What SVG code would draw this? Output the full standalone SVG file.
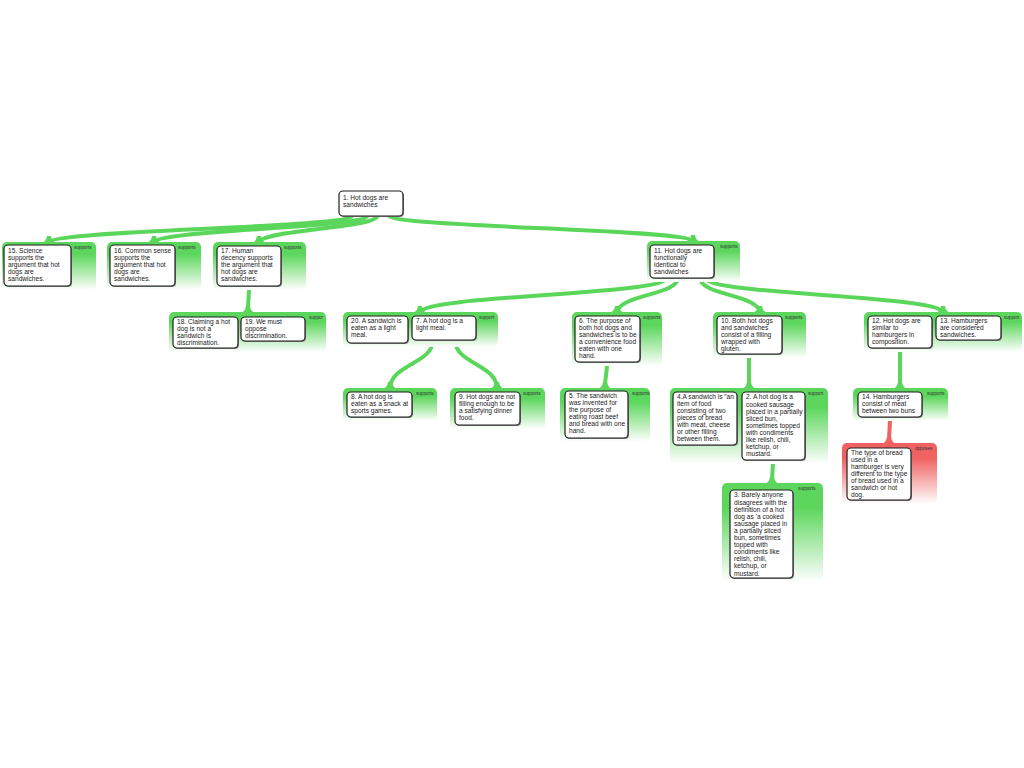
<svg xmlns="http://www.w3.org/2000/svg" width="1024" height="768" viewBox="0 0 1024 768">
<defs>
<linearGradient id="gg" x1="0" y1="0" x2="0" y2="1">
<stop offset="0" stop-color="#5cd65c"/>
<stop offset="0.25" stop-color="#5cd65c"/>
<stop offset="1" stop-color="#ffffff"/>
</linearGradient>
<linearGradient id="gr" x1="0" y1="0" x2="0" y2="1">
<stop offset="0" stop-color="#f06262"/>
<stop offset="0.25" stop-color="#f06262"/>
<stop offset="1" stop-color="#ffffff"/>
</linearGradient>
<style>
.pg{fill:url(#gg);}
.pr{fill:url(#gr);}
.box{fill:#ffffff;stroke:#1e1e1e;stroke-width:1.2;}
.sh{fill:#8a8a8a;}
.t{font-family:"Liberation Sans",Arial,sans-serif;font-size:6.6px;fill:#1a1a1a;}
.lbl{font-family:"Liberation Sans",Arial,sans-serif;font-size:4.6px;fill:#333333;}
.lk{fill:none;stroke:#5ad65a;stroke-width:4;}
.lkr{fill:none;stroke:#ee6262;stroke-width:4;}
.fl{fill:#5ad65a;}
.flr{fill:#ee6262;}
</style>
</defs>
<rect width="1024" height="768" fill="#ffffff"/>

<g id="connectors">
<path class="lk" d="M353,215 C353,229 49,229 49,243"/>
<path class="lk" d="M368,215 C368,229 154,229 154,243"/>
<path class="lk" d="M378,215 C378,229 259,229 259,243"/>
<path class="lk" d="M388,215 C388,228 693,228 693,242"/>
<path class="lk" d="M249,286 C249,299 248,299 248,313"/>
<path class="lk" d="M666,278 C666,295 420,295 420,313"/>
<path class="lk" d="M678,278 C678,295 617,295 617,313"/>
<path class="lk" d="M700,278 C700,295 760,295 760,313"/>
<path class="lk" d="M706,278 C706,295 943,295 943,313"/>
<path class="lk" d="M433,340 C433,364 390,364 390,389"/>
<path class="lk" d="M455,340 C455,364 497,364 497,389"/>
<path class="lk" d="M607,362 C607,375 605,375 605,389"/>
<path class="lk" d="M749,354 C749,371 749,371 749,389"/>
<path class="lk" d="M773,460 C773,471 772,471 772,484"/>
<path class="lk" d="M900,348 C900,368 900,368 900,389"/>
<path class="lkr" d="M890,417 C890,430 889,430 889,444"/>
<path class="fl" d="M40,243 Q46,243 47,236 L51,236 Q52,243 58,243 Z"/>
<path class="fl" d="M145,243 Q151,243 152,236 L156,236 Q157,243 163,243 Z"/>
<path class="fl" d="M250,243 Q256,243 257,236 L261,236 Q262,243 268,243 Z"/>
<path class="fl" d="M684,242 Q690,242 691,235 L695,235 Q696,242 702,242 Z"/>
<path class="fl" d="M239,313 Q245,313 246,306 L250,306 Q251,313 257,313 Z"/>
<path class="fl" d="M411,313 Q417,313 418,306 L422,306 Q423,313 429,313 Z"/>
<path class="fl" d="M608,313 Q614,313 615,306 L619,306 Q620,313 626,313 Z"/>
<path class="fl" d="M751,313 Q757,313 758,306 L762,306 Q763,313 769,313 Z"/>
<path class="fl" d="M934,313 Q940,313 941,306 L945,306 Q946,313 952,313 Z"/>
<path class="fl" d="M381,389 Q387,389 388,382 L392,382 Q393,389 399,389 Z"/>
<path class="fl" d="M488,389 Q494,389 495,382 L499,382 Q500,389 506,389 Z"/>
<path class="fl" d="M596,389 Q602,389 603,382 L607,382 Q608,389 614,389 Z"/>
<path class="fl" d="M740,389 Q746,389 747,382 L751,382 Q752,389 758,389 Z"/>
<path class="fl" d="M763,484 Q769,484 770,477 L774,477 Q775,484 781,484 Z"/>
<path class="fl" d="M891,389 Q897,389 898,382 L902,382 Q903,389 909,389 Z"/>
<path class="flr" d="M880,444 Q886,444 887,437 L891,437 Q892,444 898,444 Z"/>
<path class="fl" d="M244,286 Q247,286 247,291 L251,291 Q251,286 254,286 Z"/>
<path class="fl" d="M602,362 Q605,362 605,367 L609,367 Q609,362 612,362 Z"/>
<path class="fl" d="M744,354 Q747,354 747,359 L751,359 Q751,354 754,354 Z"/>
<path class="fl" d="M768,460 Q771,460 771,465 L775,465 Q775,460 778,460 Z"/>
<path class="fl" d="M895,348 Q898,348 898,353 L902,353 Q902,348 905,348 Z"/>
<path class="flr" d="M885,417 Q888,417 888,422 L892,422 Q892,417 895,417 Z"/>
</g>

<g id="node-1">
<rect class="sh" x="340" y="192" width="64" height="25" rx="4"/>
<rect class="box" x="339" y="191" width="64" height="25" rx="4"/>
<text class="t" y="200.3"><tspan x="343">1. Hot dogs are</tspan><tspan x="343" dy="7">sandwiches</tspan></text>
</g>

<g id="group-15">
<rect class="pg" x="2" y="242" width="94" height="48" rx="5"/>
<text class="lbl" x="74" y="248.6">supports</text>
<g id="node-15">
<rect class="sh" x="5" y="246" width="67" height="41" rx="4"/>
<rect class="box" x="4" y="245" width="67" height="41" rx="4"/>
<text class="t" y="252.6"><tspan x="8">15. Science</tspan><tspan x="8" dy="7.1">supports the</tspan><tspan x="8" dy="7.1">argument that hot</tspan><tspan x="8" dy="7.1">dogs are</tspan><tspan x="8" dy="7.1">sandwiches.</tspan></text>
</g>
</g>

<g id="group-16">
<rect class="pg" x="107" y="242" width="94" height="48" rx="5"/>
<text class="lbl" x="178" y="248.6">supports</text>
<g id="node-16">
<rect class="sh" x="111" y="246" width="65" height="41" rx="4"/>
<rect class="box" x="110" y="245" width="65" height="41" rx="4"/>
<text class="t" y="252.6"><tspan x="114">16. Common sense</tspan><tspan x="114" dy="7.1">supports the</tspan><tspan x="114" dy="7.1">argument that hot</tspan><tspan x="114" dy="7.1">dogs are</tspan><tspan x="114" dy="7.1">sandwiches.</tspan></text>
</g>
</g>

<g id="group-17">
<rect class="pg" x="213" y="242" width="93" height="48" rx="5"/>
<text class="lbl" x="284" y="248.6">supports</text>
<g id="node-17">
<rect class="sh" x="218" y="247" width="64" height="40" rx="4"/>
<rect class="box" x="217" y="246" width="64" height="40" rx="4"/>
<text class="t" y="253.4"><tspan x="221">17. Human</tspan><tspan x="221" dy="7">decency supports</tspan><tspan x="221" dy="7">the argument that</tspan><tspan x="221" dy="7">hot dogs are</tspan><tspan x="221" dy="7">sandwiches.</tspan></text>
</g>
</g>

<g id="group-18-19">
<rect class="pg" x="169" y="312" width="157" height="40" rx="5"/>
<text class="lbl" x="309" y="318.6">suppor</text>
<g id="node-18">
<rect class="sh" x="174" y="318" width="65" height="31" rx="4"/>
<rect class="box" x="173" y="317" width="65" height="31" rx="4"/>
<text class="t" y="324.2"><tspan x="177">18. Claiming a hot</tspan><tspan x="177" dy="6.9">dog is not a</tspan><tspan x="177" dy="6.9">sandwich is</tspan><tspan x="177" dy="6.9">discrimination.</tspan></text>
</g>
<g id="node-19">
<rect class="sh" x="242" y="318" width="64" height="24" rx="4"/>
<rect class="box" x="241" y="317" width="64" height="24" rx="4"/>
<text class="t" y="324.2"><tspan x="245">19. We must</tspan><tspan x="245" dy="6.9">oppose</tspan><tspan x="245" dy="6.9">discrimination.</tspan></text>
</g>
</g>

<g id="group-11">
<rect class="pg" x="647" y="241" width="93" height="41" rx="5"/>
<text class="lbl" x="720" y="247.6">supports</text>
<g id="node-11">
<rect class="sh" x="651" y="246" width="64" height="33" rx="4"/>
<rect class="box" x="650" y="245" width="64" height="33" rx="4"/>
<text class="t" y="252.6"><tspan x="654">11. Hot dogs are</tspan><tspan x="654" dy="7.1">functionally</tspan><tspan x="654" dy="7.1">identical to</tspan><tspan x="654" dy="7.1">sandwiches</tspan></text>
</g>
</g>

<g id="group-20-7">
<rect class="pg" x="343" y="312" width="155" height="35" rx="5"/>
<text class="lbl" x="479" y="318.6">support</text>
<g id="node-20">
<rect class="sh" x="348" y="317" width="61" height="27" rx="4"/>
<rect class="box" x="347" y="316" width="61" height="27" rx="4"/>
<text class="t" y="323.4"><tspan x="351">20. A sandwich is</tspan><tspan x="351" dy="7">eaten as a light</tspan><tspan x="351" dy="7">meal.</tspan></text>
</g>
<g id="node-7">
<rect class="sh" x="413" y="317" width="64" height="24" rx="4"/>
<rect class="box" x="412" y="316" width="64" height="24" rx="4"/>
<text class="t" y="323.4"><tspan x="416">7. A hot dog is a</tspan><tspan x="416" dy="7">light meal.</tspan></text>
</g>
</g>

<g id="group-8">
<rect class="pg" x="343" y="388" width="94" height="33" rx="5"/>
<text class="lbl" x="416" y="394.6">supports</text>
<g id="node-8">
<rect class="sh" x="348" y="393" width="65" height="25" rx="4"/>
<rect class="box" x="347" y="392" width="65" height="25" rx="4"/>
<text class="t" y="399.3"><tspan x="351">8. A hot dog is</tspan><tspan x="351" dy="6.9">eaten as a snack at</tspan><tspan x="351" dy="6.9">sports games.</tspan></text>
</g>
</g>

<g id="group-9">
<rect class="pg" x="450" y="388" width="95" height="41" rx="5"/>
<text class="lbl" x="523" y="394.6">supports</text>
<g id="node-9">
<rect class="sh" x="456" y="393" width="65" height="33" rx="4"/>
<rect class="box" x="455" y="392" width="65" height="33" rx="4"/>
<text class="t" y="399.4"><tspan x="459">9. Hot dogs are not</tspan><tspan x="459" dy="7">filling enough to be</tspan><tspan x="459" dy="7">a satisfying dinner</tspan><tspan x="459" dy="7">food.</tspan></text>
</g>
</g>

<g id="group-6">
<rect class="pg" x="572" y="312" width="90" height="54" rx="5"/>
<text class="lbl" x="643" y="318.6">supports</text>
<g id="node-6">
<rect class="sh" x="576" y="317" width="65" height="46" rx="4"/>
<rect class="box" x="575" y="316" width="65" height="46" rx="4"/>
<text class="t" y="323.4"><tspan x="579">6. The purpose of</tspan><tspan x="579" dy="7">both hot dogs and</tspan><tspan x="579" dy="7">sandwiches is to be</tspan><tspan x="579" dy="7">a convenience food</tspan><tspan x="579" dy="7">eaten with one</tspan><tspan x="579" dy="7">hand.</tspan></text>
</g>
</g>

<g id="group-5">
<rect class="pg" x="560" y="388" width="90" height="54" rx="5"/>
<text class="lbl" x="632" y="394.6">supports</text>
<g id="node-5">
<rect class="sh" x="566" y="392" width="63" height="47" rx="4"/>
<rect class="box" x="565" y="391" width="63" height="47" rx="4"/>
<text class="t" y="398.4"><tspan x="569">5. The sandwich</tspan><tspan x="569" dy="7">was invented for</tspan><tspan x="569" dy="7">the purpose of</tspan><tspan x="569" dy="7">eating roast beef</tspan><tspan x="569" dy="7">and bread with one</tspan><tspan x="569" dy="7">hand.</tspan></text>
</g>
</g>

<g id="group-10">
<rect class="pg" x="713" y="312" width="93" height="46" rx="5"/>
<text class="lbl" x="785" y="318.6">supports</text>
<g id="node-10">
<rect class="sh" x="718" y="317" width="65" height="38" rx="4"/>
<rect class="box" x="717" y="316" width="65" height="38" rx="4"/>
<text class="t" y="323.4"><tspan x="721">10. Both hot dogs</tspan><tspan x="721" dy="7">and sandwiches</tspan><tspan x="721" dy="7">consist of a filling</tspan><tspan x="721" dy="7">wrapped with</tspan><tspan x="721" dy="7">gluten.</tspan></text>
</g>
</g>

<g id="group-4-2">
<rect class="pg" x="670" y="388" width="158" height="76" rx="5"/>
<text class="lbl" x="808" y="394.6">support</text>
<g id="node-4">
<rect class="sh" x="674" y="393" width="64" height="53" rx="4"/>
<rect class="box" x="673" y="392" width="64" height="53" rx="4"/>
<text class="t" y="399.4"><tspan x="677">4.A sandwich is "an</tspan><tspan x="677" dy="7">item of food</tspan><tspan x="677" dy="7">consisting of two</tspan><tspan x="677" dy="7">pieces of bread</tspan><tspan x="677" dy="7">with meat, cheese</tspan><tspan x="677" dy="7">or other filling</tspan><tspan x="677" dy="7">between them.</tspan></text>
</g>
<g id="node-2">
<rect class="sh" x="743" y="393" width="63" height="68" rx="4"/>
<rect class="box" x="742" y="392" width="63" height="68" rx="4"/>
<text class="t" y="399.4"><tspan x="746">2. A hot dog is a</tspan><tspan x="746" dy="7.1">cooked sausage</tspan><tspan x="746" dy="7.1">placed in a partially</tspan><tspan x="746" dy="7.1">sliced bun,</tspan><tspan x="746" dy="7.1">sometimes topped</tspan><tspan x="746" dy="7.1">with condiments</tspan><tspan x="746" dy="7.1">like relish, chili,</tspan><tspan x="746" dy="7.1">ketchup, or</tspan><tspan x="746" dy="7.1">mustard.</tspan></text>
</g>
</g>

<g id="group-3">
<rect class="pg" x="722" y="483" width="101" height="99" rx="5"/>
<text class="lbl" x="798" y="489.6">supports</text>
<g id="node-3">
<rect class="sh" x="731" y="491" width="63" height="88" rx="4"/>
<rect class="box" x="730" y="490" width="63" height="88" rx="4"/>
<text class="t" y="497.4"><tspan x="734">3. Barely anyone</tspan><tspan x="734" dy="7.1">disagrees with the</tspan><tspan x="734" dy="7.1">definition of a hot</tspan><tspan x="734" dy="7.1">dog as 'a cooked</tspan><tspan x="734" dy="7.1">sausage placed in</tspan><tspan x="734" dy="7.1">a partially sliced</tspan><tspan x="734" dy="7.1">bun, sometimes</tspan><tspan x="734" dy="7.1">topped with</tspan><tspan x="734" dy="7.1">condiments like</tspan><tspan x="734" dy="7.1">relish, chili,</tspan><tspan x="734" dy="7.1">ketchup, or</tspan><tspan x="734" dy="7.1">mustard.</tspan></text>
</g>
</g>

<g id="group-12-13">
<rect class="pg" x="864" y="312" width="158" height="40" rx="5"/>
<text class="lbl" x="1004" y="318.6">support</text>
<g id="node-12">
<rect class="sh" x="869" y="317" width="64" height="32" rx="4"/>
<rect class="box" x="868" y="316" width="64" height="32" rx="4"/>
<text class="t" y="323.4"><tspan x="872">12. Hot dogs are</tspan><tspan x="872" dy="7">similar to</tspan><tspan x="872" dy="7">hamburgers in</tspan><tspan x="872" dy="7">composition.</tspan></text>
</g>
<g id="node-13">
<rect class="sh" x="937" y="317" width="65" height="24" rx="4"/>
<rect class="box" x="936" y="316" width="65" height="24" rx="4"/>
<text class="t" y="323.2"><tspan x="940">13. Hamburgers</tspan><tspan x="940" dy="6.9">are considered</tspan><tspan x="940" dy="6.9">sandwiches.</tspan></text>
</g>
</g>

<g id="group-14">
<rect class="pg" x="853" y="388" width="95" height="33" rx="5"/>
<text class="lbl" x="927" y="394.6">supports</text>
<g id="node-14">
<rect class="sh" x="859" y="393" width="64" height="25" rx="4"/>
<rect class="box" x="858" y="392" width="64" height="25" rx="4"/>
<text class="t" y="399.3"><tspan x="862">14. Hamburgers</tspan><tspan x="862" dy="6.9">consist of meat</tspan><tspan x="862" dy="6.9">between two buns</tspan></text>
</g>
</g>

<g id="group-opposes">
<rect class="pr" x="842" y="443" width="95" height="61" rx="5"/>
<text class="lbl" x="915" y="449.6">opposes</text>
<g id="node-bread">
<rect class="sh" x="848" y="449" width="64" height="52" rx="4"/>
<rect class="box" x="847" y="448" width="64" height="52" rx="4"/>
<text class="t" y="455.4"><tspan x="851">The type of bread</tspan><tspan x="851" dy="7">used in a</tspan><tspan x="851" dy="7">hamburger is very</tspan><tspan x="851" dy="7">different to the type</tspan><tspan x="851" dy="7">of bread used in a</tspan><tspan x="851" dy="7">sandwich or hot</tspan><tspan x="851" dy="7">dog.</tspan></text>
</g>
</g>
</svg>
